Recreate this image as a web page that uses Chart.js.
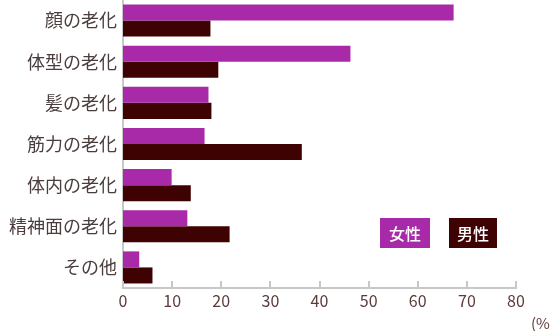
<!DOCTYPE html>
<html>
<head>
<meta charset="utf-8">
<script src="https://cdn.jsdelivr.net/npm/chart.js@4"></script>
<style>
  html, body { margin: 0; padding: 0; background: #fff; }
</style>
</head>
<body>
<canvas id="chart" width="552" height="331"></canvas>
<script>
// 項目
const categories = ['顔の老化', '体型の老化', '髪の老化', '筋力の老化', '体内の老化', '精神面の老化', 'その他'];
// 女性 / 男性 (%)
const women = [67.3, 46.3, 17.4, 16.6, 9.9, 13.1, 3.3];
const men = [17.8, 19.4, 18.0, 36.4, 13.8, 21.7, 6.0];
const xTicks = [0, 10, 20, 30, 40, 50, 60, 70, 80];
const seriesNames = ['女性', '男性'];

const purple = '#a82aa8';
const maroon = '#3f0202';
const axisGray = '#c8c8c8';
const font = '"Noto Sans CJK JP", "Noto Sans", sans-serif';

// x軸の目盛り線(上向き)、凡例、単位
const extras = {
    id: 'extras',
    afterDraw(chart) {
        const ctx = chart.ctx;
        const x = chart.scales.x;
        const area = chart.chartArea;
        ctx.save();
        ctx.strokeStyle = axisGray;
        ctx.lineWidth = 2;
        xTicks.forEach(v => {
            const px = Math.round(x.getPixelForValue(v));
            ctx.beginPath();
            ctx.moveTo(px, area.bottom);
            ctx.lineTo(px, area.bottom - 7);
            ctx.stroke();
        });
        // 凡例
        const boxes = [[380, 218, 50, 30], [449, 218, 48, 30]];
        chart.data.datasets.forEach((ds, i) => {
            const b = boxes[i];
            ctx.fillStyle = ds.backgroundColor;
            ctx.fillRect(b[0], b[1], b[2], b[3]);
            ctx.fillStyle = '#ffffff';
            ctx.font = '500 16px ' + font;
            ctx.textAlign = 'center';
            ctx.textBaseline = 'middle';
            ctx.fillText(ds.label, b[0] + b[2] / 2, b[1] + b[3] / 2 + 1);
        });
        // 単位
        ctx.fillStyle = '#5b3a3a';
        ctx.font = '15px ' + font;
        ctx.textAlign = 'left';
        ctx.textBaseline = 'middle';
        ctx.fillText('(%', 531, 323);
        ctx.restore();
    }
};

const ctx = document.getElementById('chart').getContext('2d');
new Chart(ctx, {
    type: 'bar',
    data: {
        labels: categories,
        datasets: [{
            label: seriesNames[0],
            data: women,
            backgroundColor: purple,
            barPercentage: 1,
            categoryPercentage: 0.78
        }, {
            label: seriesNames[1],
            data: men,
            backgroundColor: maroon,
            barPercentage: 1,
            categoryPercentage: 0.78
        }]
    },
    options: {
        indexAxis: 'y',
        responsive: false,
        animation: false,
        devicePixelRatio: 1,
        layout: { padding: { top: -3, right: 36, left: 0, bottom: 0 } },
        plugins: {
            legend: { display: false },
            tooltip: { enabled: false }
        },
        scales: {
            x: {
                min: 0,
                max: 80,
                afterFit: s => { s.height = 43; s.paddingLeft = 0; s.paddingRight = 0; },
                afterBuildTicks: s => { s.ticks = xTicks.map(v => ({ value: v })); },
                grid: { display: false, drawTicks: false },
                border: { display: true, color: axisGray, width: 2 },
                ticks: {
                    padding: 3,
                    maxRotation: 0,
                    autoSkip: false,
                    color: '#5b3a3a',
                    font: { family: font, size: 16 }
                }
            },
            y: {
                afterFit: s => { s.width = 123; s.paddingTop = 0; s.paddingBottom = 0; },
                grid: { display: false, drawTicks: false },
                border: { display: true, color: axisGray, width: 2 },
                ticks: {
                    padding: 6,
                    autoSkip: false,
                    color: '#4a3d3d',
                    font: { family: font, size: 18 }
                }
            }
        }
    },
    plugins: [extras]
});
</script>
</body>
</html>
